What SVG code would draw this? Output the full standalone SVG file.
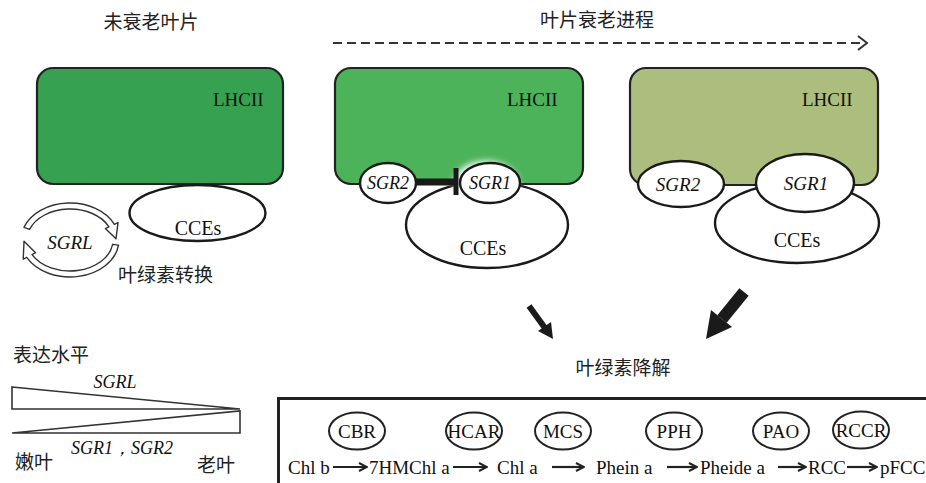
<svg xmlns="http://www.w3.org/2000/svg" width="926" height="483" viewBox="0 0 926 483">
  <style>
    .cjk { font-family: "Noto Sans CJK SC", "Noto Sans", sans-serif; font-size: 19px; fill: #222; }
    .lat { font-family: "Liberation Serif", "Times New Roman", serif; fill: #111; }
    .it { font-style: italic; }
    .box { stroke: #222; stroke-width: 2.2; }
    .ell { fill: #fff; stroke: #1a1a1a; stroke-width: 2.4; }
    .enz { fill: #fff; stroke: #222; stroke-width: 2; }
    .seq { stroke: #222; stroke-width: 2.2; fill: none; }
    .wedge { fill: #fff; stroke: #333; stroke-width: 1.6; }
  </style>
  <defs>
    <marker id="chev" viewBox="0 0 10 10" refX="9" refY="5" markerWidth="10" markerHeight="10" markerUnits="userSpaceOnUse" orient="auto">
      <path d="M1,1 L9,5 L1,9" fill="none" stroke="#222" stroke-width="2"/>
    </marker>
    <filter id="glow" x="-50%" y="-50%" width="200%" height="200%">
      <feGaussianBlur stdDeviation="3"/>
    </filter>
  </defs>

  <rect width="926" height="483" fill="#fff"/>

  <!-- headings -->
  <text class="cjk" x="151" y="29" text-anchor="middle">未衰老叶片</text>
  <text class="cjk" x="597" y="27" text-anchor="middle">叶片衰老进程</text>

  <!-- non-senescent leaf -->
  <g id="leaf-young">
    <rect class="box" x="37" y="68" width="246" height="116" rx="16" fill="#37a152"/>
    <text class="lat" x="213" y="106" font-size="19">LHCII</text>
    <ellipse class="ell" cx="197.5" cy="213" rx="68" ry="28"/>
    <text class="lat" x="198" y="235" font-size="20" text-anchor="middle">CCEs</text>
  </g>

  <!-- SGRL turnover cycle -->
  <g id="sgrl-cycle">
    <path d="M23.95,227.35 A49,37 0 0 1 114.41,224.36 L118.03,222.67 L115.97,238.81 L105.35,228.59 L108.97,226.9 A43,31 0 0 0 29.59,229.4 Z" fill="#fff" stroke="#333" stroke-width="1.4" stroke-linejoin="round"/>
    <path d="M118.52,245.15 A49,37 0 0 1 26.74,257.37 L23.21,259.25 L24.03,241.19 L35.57,252.68 L32.04,254.55 A43,31 0 0 0 112.58,244.32 Z" fill="#fff" stroke="#333" stroke-width="1.4" stroke-linejoin="round"/>
    <text class="lat it" x="70" y="249" font-size="19" text-anchor="middle">SGRL</text>
    <text class="cjk" x="118" y="282">叶绿素转换</text>
  </g>

  <!-- early senescence -->
  <g id="leaf-early">
    <rect class="box" x="335" y="68" width="248" height="116" rx="16" fill="#4db35b"/>
    <text class="lat" x="507" y="106" font-size="19">LHCII</text>
    <ellipse class="ell" cx="487" cy="225" rx="81" ry="43"/>
    <text class="lat" x="483" y="255" font-size="20" text-anchor="middle">CCEs</text>
    <ellipse cx="486" cy="183" rx="32" ry="22" fill="#fff" filter="url(#glow)"/>
    <ellipse class="ell" cx="388" cy="183" rx="28" ry="20"/>
    <ellipse class="ell" cx="490" cy="183" rx="30" ry="20"/>
    <text class="lat it" x="388" y="189" font-size="18" text-anchor="middle">SGR2</text>
    <text class="lat it" x="490" y="189" font-size="18" text-anchor="middle">SGR1</text>
  </g>

  <!-- late senescence -->
  <g id="leaf-late">
    <rect class="box" x="630" y="68" width="248" height="117" rx="16" fill="#adbd7d"/>
    <text class="lat" x="802" y="106" font-size="19">LHCII</text>
    <ellipse class="ell" cx="797" cy="223" rx="82" ry="40"/>
    <text class="lat" x="797" y="247" font-size="20" text-anchor="middle">CCEs</text>
    <ellipse class="ell" cx="681" cy="184" rx="43" ry="23"/>
    <ellipse class="ell" cx="805" cy="183" rx="49" ry="29"/>
    <text class="lat it" x="678" y="191" font-size="19" text-anchor="middle">SGR2</text>
    <text class="lat it" x="806" y="190" font-size="19" text-anchor="middle">SGR1</text>
  </g>

  <g id="degradation-label">
    <text class="cjk" x="623" y="375" font-size="18" text-anchor="middle">叶绿素降解</text>
  </g>

  <!-- expression levels -->
  <g id="expression">
    <text class="cjk" x="13" y="362">表达水平</text>
    <polygon class="wedge" points="12,387 240,409 12,409"/>
    <polygon class="wedge" points="12,433 240,411 240,433"/>
    <text class="lat it" x="115" y="388" font-size="18" text-anchor="middle">SGRL</text>
    <text class="lat it" x="122" y="454" font-size="18" text-anchor="middle">SGR1，SGR2</text>
    <text class="cjk" x="15" y="469">嫩叶</text>
    <text class="cjk" x="197" y="472">老叶</text>
  </g>

  <!-- degradation pathway panel -->
  <g id="pathway">
    <path d="M926,398.5 H278.5 V483" fill="none" stroke="#222" stroke-width="3"/>
    <g id="enzymes">
      <ellipse class="enz" cx="357" cy="431" rx="28" ry="18.5"/>
      <ellipse class="enz" cx="474" cy="431" rx="28" ry="18.5"/>
      <ellipse class="enz" cx="563" cy="431" rx="28" ry="18.5"/>
      <ellipse class="enz" cx="674" cy="431" rx="28" ry="18.5"/>
      <ellipse class="enz" cx="781" cy="431" rx="28" ry="18.5"/>
      <ellipse class="enz" cx="861" cy="430" rx="28" ry="18.5"/>
      <g class="lat" font-size="19" text-anchor="middle">
        <text x="357" y="438">CBR</text>
        <text x="474" y="438">HCAR</text>
        <text x="563" y="438">MCS</text>
        <text x="674" y="438">PPH</text>
        <text x="781" y="438">PAO</text>
        <text x="861" y="437">RCCR</text>
      </g>
    </g>
    <g class="lat" font-size="19">
      <text x="288" y="474">Chl b</text>
      <text x="369" y="474">7HMChl a</text>
      <text x="497" y="474">Chl a</text>
      <text x="596" y="474">Phein a</text>
      <text x="700" y="474">Pheide a</text>
      <text x="808" y="474">RCC</text>
      <text x="880" y="474">pFCC</text>
    </g>
  </g>

  <!-- connectors -->
  <g id="connectors">
    <line x1="333" y1="43" x2="864" y2="43" stroke="#333" stroke-width="2.2" stroke-dasharray="9 5"/>
    <path d="M858,36 L867,43 L858,50" fill="none" stroke="#333" stroke-width="2"/>
    <!-- SGR2 inhibits SGR1 -->
    <line x1="416" y1="182" x2="455" y2="182" stroke="#1a1a1a" stroke-width="7"/>
    <line x1="456" y1="168" x2="456" y2="195" stroke="#1a1a1a" stroke-width="5"/>
    <!-- arrows into chlorophyll degradation -->
    <line x1="529" y1="306" x2="545" y2="328" stroke="#1a1a1a" stroke-width="6"/>
    <polygon points="553,339 538,331 551,322" fill="#1a1a1a"/>
    <line x1="744" y1="292" x2="722" y2="319" stroke="#1a1a1a" stroke-width="12"/>
    <polygon points="706,339 711,310 732,327" fill="#1a1a1a"/>
    <!-- pathway steps -->
    <line class="seq" x1="333" y1="467" x2="367" y2="467" marker-end="url(#chev)"/>
    <line class="seq" x1="453" y1="467" x2="487" y2="467" marker-end="url(#chev)"/>
    <line class="seq" x1="552" y1="467" x2="584" y2="467" marker-end="url(#chev)"/>
    <line class="seq" x1="667" y1="467" x2="697" y2="467" marker-end="url(#chev)"/>
    <line class="seq" x1="778" y1="467" x2="806" y2="467" marker-end="url(#chev)"/>
    <line class="seq" x1="847" y1="467" x2="877" y2="467" marker-end="url(#chev)"/>
  </g>
</svg>
